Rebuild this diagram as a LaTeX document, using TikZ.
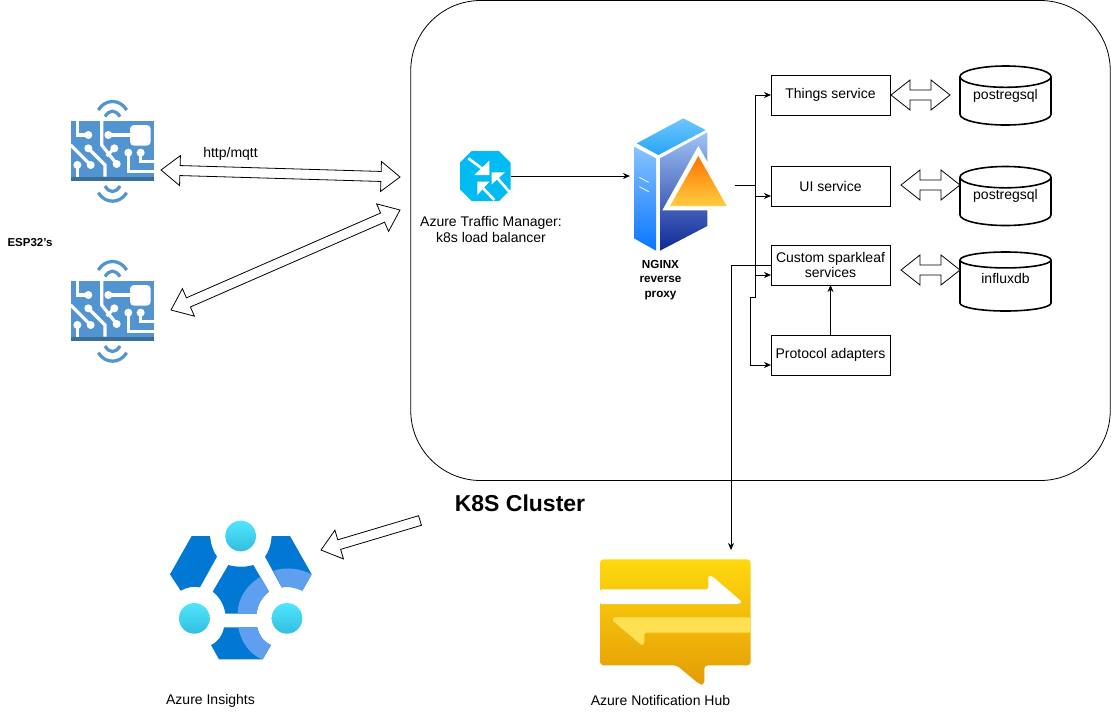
\documentclass[tikz,border=0pt]{standalone}
\usepackage{fontspec}
\setmainfont{Liberation Sans}
\usetikzlibrary{arrows.meta,calc,shapes.geometric}

\definecolor{espblue}{HTML}{5294CF}
\definecolor{espdark}{HTML}{3B6E98}
\definecolor{azblue}{HTML}{0078D4}
\definecolor{azlight}{HTML}{5EA0EF}
\definecolor{tmblue}{HTML}{00BCF2}
\definecolor{hubpale}{HTML}{FFE052}

\tikzset{
	svcbox/.style={draw, rectangle, minimum width=119pt, minimum height=40pt, inner sep=0pt, outer sep=0pt, align=center, font=\fontsize{14}{15.5}\selectfont},
	dbcyl/.style={draw, line width=1.6pt, cylinder, shape border rotate=90, aspect=.33, minimum width=91pt, minimum height=59pt, inner sep=0pt, outer sep=0pt, anchor=shape center, font=\fontsize{14}{16}\selectfont},
	iconbox/.style={rectangle, inner sep=0pt, outer sep=0pt},
	txt/.style={align=center, inner sep=0pt, font=\fontsize{14}{16}\selectfont},
	conn/.style={draw, line width=.8pt, -{Stealth[length=7pt,width=6pt]}},
	blockline/.style={draw, line width=.8pt, line join=miter, fill=white},
	trace/.style={draw=white, line width=3.2pt, line cap=butt},
	espboard/.pic={
		\begin{scope}[scale=1/3]
			\fill[espblue] (62,122) rectangle (313,302);
			\fill[espdark] (62,290) rectangle (313,302);
			\draw[espblue, line width=3.2pt] (145,90) .. controls (165,56) and (210,56) .. (230,90);
			\draw[espblue, line width=3.2pt] (165,110) .. controls (178,88) and (197,88) .. (210,110);
			\draw[espblue, line width=3.2pt] (165,318) .. controls (178,340) and (197,340) .. (210,318);
			\draw[espblue, line width=3.2pt] (145,338) .. controls (165,372) and (210,372) .. (230,338);
			\fill[white, rounded corners=4pt] (240,135) rectangle (302,197);
			\draw[trace] (82,122) -- (82,165) -- (115,165);
			\draw[trace] (155,122) -- (155,195) -- (200,252);
			\draw[trace] (175,165) -- (240,165);
			\draw[trace] (115,205) -- (165,255) -- (165,290);
			\draw[trace] (62,195) -- (122,255);
			\draw[trace] (82,255) -- (82,290);
			\draw[trace] (193,205) -- (170,228);
			\draw[trace] (235,218) -- (235,275) -- (313,275);
			\draw[trace] (272,218) -- (272,245) -- (313,245);
			\foreach \px/\py in {115/165,175/165,115/205,193/205,82/255,122/255,200/252,235/218,272/218}
				\fill[white] (\px,\py) circle (12);
		\end{scope}
	}
}

% double headed block arrow between two points
\newcommand{\dblockarrow}[2]{
	\draw[blockline] (#1)
		-- ($($(#1)!19pt!(#2)$)!15pt!90:(#2)$) -- ($($(#1)!19pt!(#2)$)!5pt!90:(#2)$)
		-- ($($(#2)!19pt!(#1)$)!5pt!-90:(#1)$) -- ($($(#2)!19pt!(#1)$)!15pt!-90:(#1)$)
		-- (#2)
		-- ($($(#2)!19pt!(#1)$)!15pt!90:(#1)$) -- ($($(#2)!19pt!(#1)$)!5pt!90:(#1)$)
		-- ($($(#1)!19pt!(#2)$)!5pt!-90:(#2)$) -- ($($(#1)!19pt!(#2)$)!15pt!-90:(#2)$)
		-- cycle;
}
% one headed block arrow, tip at the second point
\newcommand{\sblockarrow}[2]{
	\draw[blockline] (#2)
		-- ($($(#2)!19pt!(#1)$)!15pt!90:(#1)$) -- ($($(#2)!19pt!(#1)$)!5pt!90:(#1)$)
		-- ($(#1)!5pt!-90:(#2)$) -- ($(#1)!5pt!90:(#2)$)
		-- ($($(#2)!19pt!(#1)$)!5pt!-90:(#1)$) -- ($($(#2)!19pt!(#1)$)!15pt!-90:(#1)$)
		-- cycle;
}

\begin{document}
\begin{tikzpicture}[x=1pt, y=-1pt]
	\useasboundingbox (0,0) rectangle (1111,716);
	\fill[white] (0,0) rectangle (1111,716);

	%cluster
	\node[draw, rectangle, rounded corners=70pt, minimum width=699.5pt, minimum height=480pt, inner sep=0pt, outer sep=0pt, line width=.8pt](cluster) at (760.5,240.5) {};
	\node[txt, font=\bfseries\fontsize{23}{26}\selectfont](clusterlabel) at (520,503) {K8S Cluster};

	%esp boards
	\pic at (50,80) {espboard};
	\pic at (50,240) {espboard};
	\node[txt, font=\bfseries\fontsize{11.5}{13}\selectfont](esplabel) at (30,243) {ESP32's};
	\node[txt](httplabel) at (230.5,153.5) {http/mqtt};
	\coordinate (esp1) at (161,170);
	\coordinate (esp2) at (171,310);
	\coordinate (lb1) at (400,177);
	\coordinate (lb2) at (400,210);
	\dblockarrow{esp1}{lb1}
	\dblockarrow{esp2}{lb2}

	%traffic manager
	\node[iconbox, minimum width=51pt, minimum height=50pt](traffic) at (485.5,176) {};
	\begin{scope}[shift={(450,140)}, scale=1/3]
		\fill[tmblue] (30,68) -- (65,33) -- (147,33) -- (182,68) -- (182,148) -- (147,183) -- (65,183) -- (30,148) -- cycle;
		\fill[white] (118,62) -- (118,105) -- (73,105) -- cycle;
		\draw[white, line width=2.6pt] (55,55) -- (102,90);
		\fill[white] (125,97) -- (165,97) -- (125,133) -- cycle;
		\draw[white, line width=2.6pt] (140,112) -- (182,160);
		\fill[white] (82,125) -- (118,125) -- (82,165) -- cycle;
		\draw[white, line width=2.6pt] (95,140) -- (133,180);
	\end{scope}
	\node[txt](trafficlabel) at (491,229) {Azure Traffic Manager:\\k8s load balancer};

	%nginx server
	\node[iconbox, minimum width=105pt, minimum height=134pt](nginx) at (682.5,185) {};
	\begin{scope}[shift={(440,100)}, scale=1/3]
		\shade[top color={rgb,255:red,111;green,197;blue,255}, bottom color={rgb,255:red,38;green,166;blue,245}] (590,130) -- (730,55) -- (797,90) -- (655,165) -- cycle;
		\shade[top color={rgb,255:red,135;green,195;blue,255}, bottom color={rgb,255:red,10;green,118;blue,255}] (582,140) -- (648,175) -- (648,452) -- (582,415) -- cycle;
		\shade[top color={rgb,255:red,160;green,195;blue,245}, bottom color={rgb,255:red,14;green,40;blue,150}] (660,175) -- (802,97) -- (802,378) -- (660,452) -- cycle;
		\draw[white, line width=.8pt] (598,232) -- (626,247) (598,260) -- (626,275);
		\fill[white] (775,138) -- (667,331) -- (885,331) -- cycle;
		\shade[top color={rgb,255:red,255;green,115;blue,0}, bottom color={rgb,255:red,255;green,205;blue,65}] (775,168) -- (690,318) -- (860,318) -- cycle;
	\end{scope}
	\node[txt, font=\bfseries\fontsize{11.7}{14.5}\selectfont](nginxlabel) at (660.5,280) {NGINX\\reverse\\proxy};

	%services
	\node[svcbox](things) at (830.5,95) {\raisebox{-1pt}{Things service}};
	\node[svcbox](ui) at (830.5,186) {UI service};
	\node[svcbox](custom) at (830.5,265) {Custom sparkleaf\\services};
	\node[svcbox](protocol) at (830.5,355) {\raisebox{-1pt}{Protocol adapters}};

	%databases
	\node[dbcyl](pg1) at (1005.5,95.5) {\raisebox{14pt}{postregsql}};
	\node[dbcyl](pg2) at (1005.5,196) {\raisebox{14pt}{postregsql}};
	\node[dbcyl](influx) at (1005.5,281.5) {\raisebox{14pt}{influxdb}};

	\coordinate (pg1in) at (950,95);
	\coordinate (pg2in) at (960,185);
	\coordinate (influxin) at (960,270);
	\coordinate (things1) at (891,95);
	\coordinate (ui1) at (901,185);
	\coordinate (custom1) at (901,270);
	\dblockarrow{things1}{pg1in}
	\dblockarrow{ui1}{pg2in}
	\dblockarrow{custom1}{influxin}

	%azure insights
	\node[iconbox, minimum width=143pt, minimum height=138pt](insights) at (241,590) {};
	\begin{scope}[shift={(150,510)}, scale=1/3]
		\fill[azblue] (125,78) -- (180,78) .. controls (183,105) and (190,125) .. (201,140) -- (150,232) .. controls (130,228) and (110,232) .. (92,242) -- (60,193) -- cycle;
		\fill[azblue] (365,78) -- (420,78) -- (485,193) -- (457,242) .. controls (435,232) and (415,228) .. (395,232) -- (345,140) .. controls (356,125) and (363,105) .. (365,78) -- cycle;
		\fill[azlight] (370,182) .. controls (410,170) and (450,175) .. (485,193) -- (457,242) .. controls (435,232) and (415,228) .. (395,232) -- cycle;
		\fill[azblue] (235,165) .. controls (260,172) and (285,172) .. (310,165) -- (357,245) .. controls (335,262) and (322,285) .. (320,311) -- (226,311) .. controls (222,285) and (210,262) .. (188,245) -- cycle;
		\fill[azlight] (332,200) -- (357,245) .. controls (335,262) and (322,285) .. (320,311) -- (263,311) .. controls (263,265) and (290,225) .. (332,200) -- cycle;
		\fill[azblue] (222,352) -- (322,352) .. controls (326,375) and (340,395) .. (363,405) -- (338,448) -- (207,448) -- (183,405) .. controls (205,395) and (218,375) .. (222,352) -- cycle;
		\fill[azlight] (265,352) -- (322,352) .. controls (326,375) and (340,395) .. (363,405) -- (338,448) .. controls (300,435) and (272,395) .. (265,352) -- cycle;
		\foreach \cx/\cy in {272/78,133/325,411/325}
			\shade[top color={rgb,255:red,80;green,230;blue,255}, bottom color={rgb,255:red,50;green,190;blue,221}] (\cx,\cy) circle (46);
	\end{scope}
	\node[txt](insightslabel) at (210.5,700.5) {Azure Insights};
	\coordinate (insightsin) at (321,550);
	\coordinate (clustertail) at (420,520.5);
	\sblockarrow{clustertail}{insightsin}

	%notification hub
	\node[iconbox, minimum width=151pt, minimum height=126pt](hub) at (675.5,621) {};
	\begin{scope}[shift={(590,540)}, scale=1/3]
		\shade[top color={rgb,255:red,255;green,216;blue,15}, bottom color={rgb,255:red,228;green,156;blue,5}, rounded corners=3.5pt] (30,58) -- (482,58) -- (482,376) -- (343,376) -- (343,434) -- (330,434) -- (260,376) -- (30,376) -- cycle;
		\fill[white, rounded corners=1.5pt] (30,148) -- (355,148) -- (355,108) -- (366,108) -- (456,186) -- (446,192) -- (30,192) -- cycle;
		\fill[hubpale, rounded corners=1.5pt] (482,232) -- (72,232) -- (66,240) -- (155,316) -- (163,312) -- (163,278) -- (482,278) -- cycle;
	\end{scope}
	\node[txt](hublabel) at (660.5,700) {Azure Notification Hub};

	%connectors
	\coordinate (split) at (755.5,185);
	\coordinate (jog) at (755.5,297);
	\draw[conn] (traffic.east) -- (traffic.east -| nginx.west);
	\draw[line width=.8pt] (nginx.east) -- (split);
	\draw[conn] (split) |- (things.west);
	\draw[conn] (split) |- ($(ui.west)+(0,10)$);
	\draw[conn] (split) |- ($(custom.west)+(0,10)$);
	\draw[conn] (jog) -- ++(-5,0) |- ($(protocol.west)+(0,10)$);
	\draw[line width=.8pt] (split) -- (jog);
	\draw[conn] (protocol.north) -- (custom.south);
	\draw[conn] (custom.west) -- ++(-40,0) -- (731,550);
\end{tikzpicture}
\end{document}
